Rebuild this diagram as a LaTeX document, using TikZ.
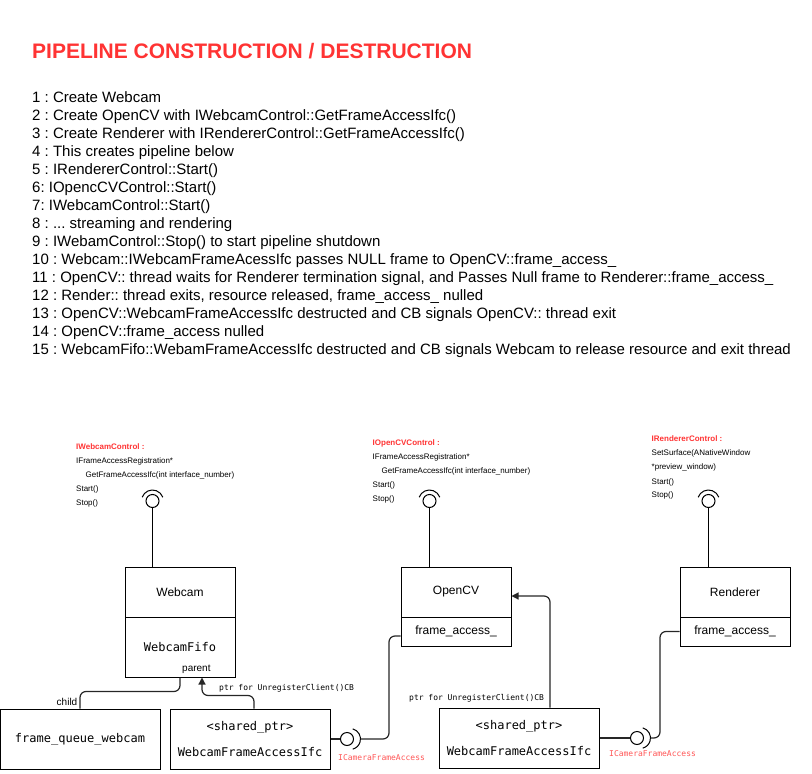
\documentclass[tikz,border=0pt]{standalone}
\usepackage{fontspec}
\setmainfont{Liberation Sans}
\setmonofont{DejaVu Sans Mono}
\usetikzlibrary{arrows.meta}
\definecolor{titlered}{HTML}{FF3333}
\definecolor{lblred}{HTML}{FF5555}
\frenchspacing
\tikzset{
  txt/.style={inner sep=0pt, anchor=base west},
  listtxt/.style={txt, font=\fontsize{15}{18}\selectfont},
  ifctxt/.style={txt, font=\fontsize{8}{9}\selectfont},
  ifchead/.style={txt, font=\fontsize{8}{9}\selectfont\bfseries, text=titlered},
  boxtop/.style={draw, line width=1pt, inner sep=0pt, minimum width=110pt, minimum height=50pt, font=\fontsize{12}{14}\selectfont},
  boxbot/.style={draw, line width=1pt, inner sep=0pt, minimum width=110pt, font=\fontsize{12}{14}\selectfont},
  monobox/.style={draw, line width=1pt, inner sep=0pt, minimum width=160pt, minimum height=60pt, align=center, font=\fontsize{12}{26}\selectfont\ttfamily},
  ball/.style={circle, draw, line width=1pt, inner sep=0pt, minimum size=13pt},
  sock/.style={line width=1pt},
  stem/.style={line width=1pt},
  conn/.style={draw=black!85, line width=1.2pt, rounded corners=6pt},
  arr/.style={conn, -{Triangle[length=7pt,width=7pt]}},
  small/.style={txt, font=\fontsize{10}{12}\selectfont},
  ptrlbl/.style={txt, font=\fontsize{8}{10}\selectfont\ttfamily},
  redlbl/.style={txt, font=\fontsize{8}{10}\selectfont\ttfamily, text=lblred}
}
\begin{document}
\begin{tikzpicture}[x=1pt,y=-1pt]
\useasboundingbox (0,0) rectangle (812,774);

% title
\node[txt, font=\fontsize{21}{24}\selectfont\bfseries, text=titlered] (title) at (32,58) {PIPELINE CONSTRUCTION / DESTRUCTION};

% list
\foreach \t [count=\i] in {
 {1 : Create Webcam},
 {2 : Create OpenCV with IWebcamControl::GetFrameAccessIfc()},
 {3 : Create Renderer with IRendererControl::GetFrameAccessIfc()},
 {4 : This creates pipeline below},
 {5 : IRendererControl::Start()},
 {6: IOpencCVControl::Start()},
 {7: IWebcamControl::Start()},
 {8 : .{}.{}. streaming and rendering},
 {9 : IWebamControl::Stop() to start pipeline shutdown},
 {10 : Webcam::IWebcamFrameAcessIfc passes NULL frame to OpenCV::frame\_access\_},
 {11 : OpenCV:: thread waits for Renderer termination signal, and Passes Null frame to Renderer::frame\_access\_},
 {12 : Render:: thread exits, resource released, frame\_access\_ nulled},
 {13 : OpenCV::WebcamFrameAccessIfc destructed and CB signals OpenCV:: thread exit},
 {14 : OpenCV::frame\_access nulled},
 {15 : WebcamFifo::WebamFrameAccessIfc destructed and CB signals Webcam to release resource and exit thread}}
{ \node[listtxt] (line\i) at (32,{102+(\i-1)*18}) {\t}; }

% interface descriptions
\node[ifchead] (wch) at (76,449.5) {IWebcamControl :};
\node[ifctxt] (wc1) at (76,463.5) {IFrameAccessRegistration*};
\node[ifctxt] (wc2) at (85.5,477.5) {GetFrameAccessIfc(int interface\_number)};
\node[ifctxt] (wc3) at (76,491.5) {Start()};
\node[ifctxt] (wc4) at (76,505.5) {Stop()};

\node[ifchead] (och) at (372.5,445.5) {IOpenCVControl :};
\node[ifctxt] (oc1) at (372.5,459.5) {IFrameAccessRegistration*};
\node[ifctxt] (oc2) at (381.5,473.5) {GetFrameAccessIfc(int interface\_number)};
\node[ifctxt] (oc3) at (372.5,487) {Start()};
\node[ifctxt] (oc4) at (372.5,501) {Stop()};

\node[ifchead] (rch) at (651.5,441.5) {IRendererControl :};
\node[ifctxt] (rc1) at (651.5,455) {SetSurface(ANativeWindow};
\node[ifctxt] (rc2) at (651.5,469.5) {*preview\_window)};
\node[ifctxt] (rc3) at (651.5,484) {Start()};
\node[ifctxt] (rc4) at (651.5,497.5) {Stop()};

% component boxes
\node[boxtop] (webcam) at (180,592) {Webcam};
\node[boxbot, minimum height=60pt, font=\fontsize{12}{14}\selectfont\ttfamily] (fifo) at (180,647) {WebcamFifo};
\node[boxtop] (ocv) at (456,592) {OpenCV};
\node[boxbot, minimum height=29pt] (ocvfa) at (456,631.5) {frame\_access\_};
\node[boxtop] (rend) at (735,592) {Renderer};
\node[boxbot, minimum height=29pt] (rendfa) at (735,631.5) {frame\_access\_};

\node[monobox] (fq) at (80,739) {frame\_queue\_webcam};
\node[monobox] (sp1) at (250,739) {<shared\_ptr>\\WebcamFrameAccessIfc};
\node[monobox] (sp2) at (519,738) {<shared\_ptr>\\WebcamFrameAccessIfc};

% provided/required interfaces on top
\node[ball] (bw) at (152.5,501) {};
\node[ball] (bo) at (429.5,501) {};
\node[ball] (br) at (708.5,501) {};
\draw[sock] ([shift={(200:11)}]bw.center) arc[start angle=200, end angle=340, radius=11];
\draw[sock] ([shift={(200:11)}]bo.center) arc[start angle=200, end angle=340, radius=11];
\draw[sock] ([shift={(200:11)}]br.center) arc[start angle=200, end angle=340, radius=11];
\draw[stem] (bw.south) -- (bw.south |- webcam.north);
\draw[stem] (bo.south) -- (bo.south |- ocv.north);
\draw[stem] (br.south) -- (br.south |- rend.north);

% ICameraFrameAccess lollipops at the bottom
\node[ball] (c1) at (347,739) {};
\node[ball] (c2) at (637,738) {};
\draw[sock] (350,739) ++(-75:10.5) arc[start angle=-75, end angle=75, radius=10.5];
\draw[sock] (640,738) ++(-75:10.5) arc[start angle=-75, end angle=75, radius=10.5];
\coordinate (k1) at (360.5,739);
\coordinate (k2) at (650.5,738);
\draw[conn] (sp1.east) -- (c1.west);
\draw[conn] (sp2.east) -- (c2.west);
\draw[conn] (k1) -- ++(28.5,0) |- ([yshift=-4.5pt]ocvfa.west);
\draw[conn] (k2) -- ++(9.5,0) |- (rendfa.west);
\node[redlbl] (ica1) at (338,760) {ICameraFrameAccess};
\node[redlbl] (ica2) at (609,756) {ICameraFrameAccess};

% parent / child and callback pointers
\draw[conn] (fq.north) -- ++(0,-17) -| (fifo.south);
\draw[arr] ([xshift=4pt]sp1.north) -- ++(0,-13) -| ([xshift=22pt]fifo.south);
\draw[arr] ([xshift=31pt]sp2.north) |- ([yshift=-4pt]ocv.east);
\node[small] (parent) at (182,671.5) {parent};
\node[small, anchor=base east] (child) at (77.5,705.5) {child};
\node[ptrlbl] (ptr1) at (219,690) {ptr for UnregisterClient()CB};
\node[ptrlbl] (ptr2) at (409,700) {ptr for UnregisterClient()CB};
\end{tikzpicture}
\end{document}
